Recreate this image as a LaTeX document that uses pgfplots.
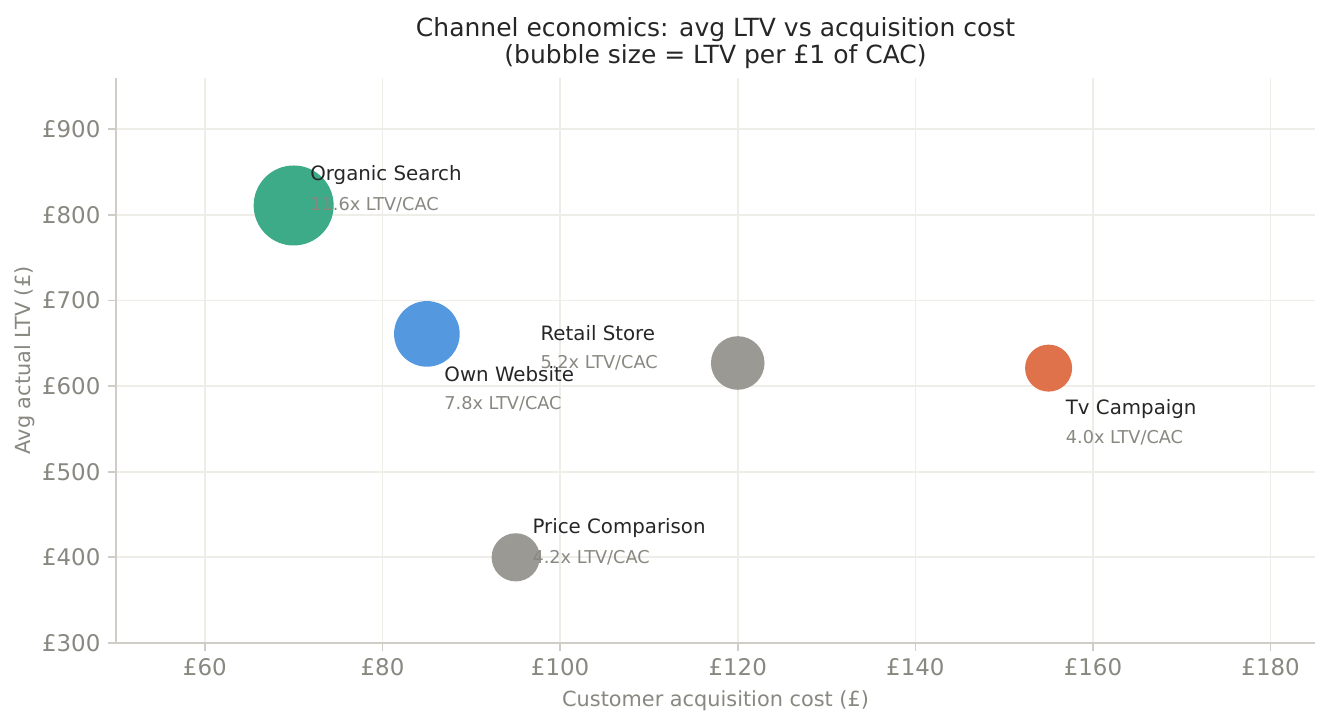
\documentclass[border=0pt]{standalone}
\usepackage{pgfplots}
\pgfplotsset{compat=1.18}
\usepackage{fontspec}
\setmainfont{DejaVu Sans}
\definecolor{cgreen}{HTML}{3DAB87}
\definecolor{cblue}{HTML}{5499E0}
\definecolor{cgray}{HTML}{9A9994}
\definecolor{corange}{HTML}{DF714B}
\definecolor{txtdark}{HTML}{262626}
\definecolor{txtgray}{HTML}{888780}
\definecolor{gridc}{HTML}{EFEDE8}
\definecolor{spinec}{HTML}{D0CDC6}
\begin{document}
\begin{tikzpicture}
\begin{axis}[
  name=ax,
  scale only axis,
  width=575.5pt, height=271.2pt,
  xmin=50, xmax=185, ymin=300, ymax=960,
  axis lines*=left,
  axis line style={spinec, line width=0.8pt},
  xtick={60,80,...,180}, ytick={300,400,...,900},
  xticklabel={£\pgfmathprintnumber{\tick}},
  yticklabel={£\pgfmathprintnumber{\tick}},
  /pgf/number format/assume math mode=true,
  tick label style={font=\fontsize{11}{13}\selectfont, text=txtgray},
  tick style={spinec, line width=0.8pt},
  tick align=outside, major tick length=4pt,
  grid=major, major grid style={gridc, line width=0.8pt},
  xlabel={Customer acquisition cost (£)},
  ylabel={Avg actual LTV (£)},
  label style={font=\fontsize{10}{12}\selectfont, text=txtgray},
  ylabel style={yshift=-3.5pt},
  title style={font=\fontsize{12}{13}\selectfont, text=txtdark, align=center, yshift=-5pt},
  title={Channel economics: avg LTV vs acquisition cost\\(bubble size = LTV per £1 of CAC)},
  clip=false,
]
\addplot[only marks, mark=*, color=cgreen, mark size=19.2pt, mark options={draw opacity=0}] coordinates {(70,811)};
\addplot[only marks, mark=*, color=cblue, mark size=15.75pt, mark options={draw opacity=0}] coordinates {(85,661)};
\addplot[only marks, mark=*, color=cgray, mark size=12.86pt, mark options={draw opacity=0}] coordinates {(120,627)};
\addplot[only marks, mark=*, color=corange, mark size=11.28pt, mark options={draw opacity=0}] coordinates {(155,621)};
\addplot[only marks, mark=*, color=cgray, mark size=11.56pt, mark options={draw opacity=0}] coordinates {(95,400)};
\coordinate (n1) at (axis cs:71.83,846.3);
\coordinate (r1) at (axis cs:71.83,811.3);
\coordinate (n2) at (axis cs:86.93,614.0);
\coordinate (r2) at (axis cs:86.93,579.0);
\coordinate (n3) at (axis cs:97.75,661.9);
\coordinate (r3) at (axis cs:97.75,626.9);
\coordinate (n4) at (axis cs:156.9,573.2);
\coordinate (r4) at (axis cs:156.9,539.3);
\coordinate (n5) at (axis cs:96.85,434.3);
\coordinate (r5) at (axis cs:96.85,399.2);
\end{axis}
\begin{scope}[every node/.style={anchor=west, inner sep=0pt},
  nm/.style={font=\fontsize{9.5}{11}\selectfont, text=txtdark},
  rt/.style={font=\fontsize{8.5}{10}\selectfont, text=txtgray}]
\node[nm] at (n1) {Organic Search};
\node[rt] at (r1) {11.6x LTV/CAC};
\node[nm] at (n2) {Own Website};
\node[rt] at (r2) {7.8x LTV/CAC};
\node[nm] at (n3) {Retail Store};
\node[rt] at (r3) {5.2x LTV/CAC};
\node[nm] at (n4) {Tv Campaign};
\node[rt] at (r4) {4.0x LTV/CAC};
\node[nm] at (n5) {Price Comparison};
\node[rt] at (r5) {4.2x LTV/CAC};
\end{scope}
\pgfresetboundingbox
\path ([shift={(-55.7pt,-38.9pt)}]ax.south west) rectangle ([shift={(6.7pt,37.4pt)}]ax.north east);
\end{tikzpicture}
\end{document}
